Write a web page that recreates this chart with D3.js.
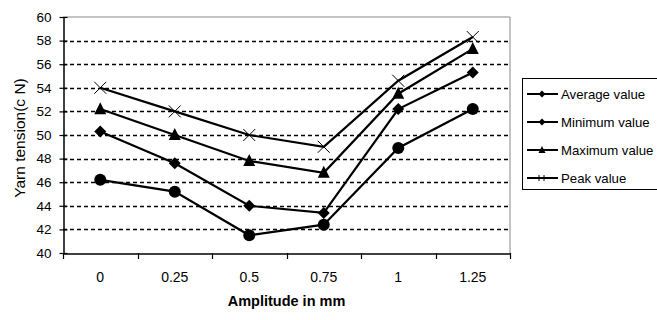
<!DOCTYPE html>
<html>
<head>
<meta charset="utf-8">
<script src="https://cdn.jsdelivr.net/npm/d3@7"></script>
<style>
  html, body { margin: 0; padding: 0; background: #fff; }
  svg { display: block; font-family: "Liberation Sans", Arial, sans-serif; }
</style>
</head>
<body>
<svg id="chart" width="657" height="320"></svg>
<script>
// Yarn tension versus vibration amplitude
const amplitudes = ["0", "0.25", "0.5", "0.75", "1", "1.25"];
const averageValue = [50.3, 47.6, 44.0, 43.4, 52.2, 55.3];
const minimumValue = [46.2, 45.2, 41.5, 42.4, 48.9, 52.2];
const maximumValue = [52.2, 50.0, 47.8, 46.8, 53.5, 57.3];
const peakValue    = [54.0, 52.0, 50.0, 49.0, 54.6, 58.3];
const yTicks = [40, 42, 44, 46, 48, 50, 52, 54, 56, 58, 60];
const seriesNames = ["Average value", "Minimum value", "Maximum value", "Peak value"];

const series = [
  { name: seriesNames[0], values: averageValue, marker: "diamond", legendMarker: "diamond" },
  { name: seriesNames[1], values: minimumValue, marker: "circle", legendMarker: "diamond" },
  { name: seriesNames[2], values: maximumValue, marker: "triangle", legendMarker: "triangle" },
  { name: seriesNames[3], values: peakValue, marker: "cross", legendMarker: "star" }
];

const svg = d3.select("#chart");
const plot = { left: 63, top: 17, right: 510, bottom: 253 };

const x = d3.scaleBand().domain(amplitudes).range([plot.left, plot.right]);
const y = d3.scaleLinear().domain([40, 60]).range([plot.bottom, plot.top]);

// plot frame (top/right in grey)
svg.append("path")
  .attr("d", `M${plot.left},${plot.top}H${plot.right}V${plot.bottom}`)
  .attr("fill", "none").attr("stroke", "#888").attr("stroke-width", 1);

// dashed gridlines
svg.append("g").selectAll("line")
  .data(yTicks.filter(t => t > 40 && t < 60))
  .join("line")
  .attr("x1", plot.left).attr("x2", plot.right)
  .attr("y1", d => Math.round(y(d)) + 0.5).attr("y2", d => Math.round(y(d)) + 0.5)
  .attr("stroke", "#000").attr("stroke-width", 1.3)
  .attr("stroke-dasharray", "4,3");

// y axis
const yAxis = svg.append("g")
  .attr("transform", `translate(${plot.left + 0.5},0)`)
  .call(d3.axisLeft(y).tickValues(yTicks).tickSize(4).tickPadding(4).tickSizeOuter(0));
yAxis.select(".domain").attr("stroke", "#000").attr("stroke-width", 1.5);
yAxis.selectAll(".tick line").attr("x2", 4).attr("x1", -4).attr("stroke-width", 1.2);
yAxis.selectAll(".tick text")
  .attr("font-size", 13.5).attr("fill", "#000")
  .attr("font-family", "'Liberation Sans', Arial, sans-serif")
  .attr("x", -12);

// x axis
const xAxis = svg.append("g")
  .attr("transform", `translate(0,${plot.bottom + 0.5})`)
  .call(d3.axisBottom(x).tickSize(0).tickPadding(19).tickSizeOuter(0));
xAxis.select(".domain").attr("stroke", "#000").attr("stroke-width", 1.5);
xAxis.selectAll(".tick text")
  .attr("font-size", 14).attr("fill", "#000")
  .attr("font-family", "'Liberation Sans', Arial, sans-serif");

// category boundary ticks
const bounds = amplitudes.map(a => x(a)).concat([plot.right]);
svg.append("g").selectAll("line")
  .data(bounds)
  .join("line")
  .attr("x1", d => Math.round(d) + 0.5).attr("x2", d => Math.round(d) + 0.5)
  .attr("y1", plot.bottom).attr("y2", plot.bottom + 6)
  .attr("stroke", "#000").attr("stroke-width", 1.2);

// axis titles
svg.append("text")
  .attr("x", (plot.left + plot.right) / 2).attr("y", 306)
  .attr("text-anchor", "middle").attr("font-size", 14.5).attr("font-weight", "bold")
  .text("Amplitude in mm");
svg.append("text")
  .attr("transform", `translate(25,${(plot.top + plot.bottom) / 2 + 3}) rotate(-90)`)
  .attr("text-anchor", "middle").attr("font-size", 15.5)
  .text("Yarn tension(c N)");

// marker drawing
function drawMarker(g, type, cx, cy, s) {
  if (type === "diamond") {
    g.append("path")
      .attr("d", `M${cx},${cy - s}L${cx + s},${cy}L${cx},${cy + s}L${cx - s},${cy}Z`)
      .attr("fill", "#000");
  } else if (type === "circle") {
    g.append("circle").attr("cx", cx).attr("cy", cy).attr("r", s).attr("fill", "#000");
  } else if (type === "triangle") {
    g.append("path")
      .attr("d", `M${cx},${cy - s * 1.15}L${cx + s},${cy + s * 0.85}L${cx - s},${cy + s * 0.85}Z`)
      .attr("fill", "#000");
  } else if (type === "cross") {
    g.append("path")
      .attr("d", `M${cx - s},${cy - s}L${cx + s},${cy + s}M${cx + s},${cy - s}L${cx - s},${cy + s}`)
      .attr("stroke", "#000").attr("stroke-width", 1);
  } else if (type === "star") {
    g.append("path")
      .attr("d", `M${cx - 3},${cy - 3}L${cx - 3},${cy + 3}M${cx + 2},${cy - 3}L${cx + 2},${cy + 3}`)
      .attr("stroke", "#000").attr("stroke-width", 1);
  }
}

const line = d3.line()
  .x((d, i) => x(amplitudes[i]) + x.bandwidth() / 2)
  .y(d => y(d));

const seriesG = svg.append("g");
series.forEach(s => {
  seriesG.append("path")
    .datum(s.values)
    .attr("d", line)
    .attr("fill", "none").attr("stroke", "#000").attr("stroke-width", 2.2);
  s.values.forEach((v, i) => {
    drawMarker(seriesG, s.marker, x(amplitudes[i]) + x.bandwidth() / 2, y(v), 6);
  });
});

// legend
const legend = svg.append("g");
legend.append("rect")
  .attr("x", 522.5).attr("y", 78.5).attr("width", 150).attr("height", 111)
  .attr("fill", "#fff").attr("stroke", "#000").attr("stroke-width", 1);
series.forEach((s, i) => {
  const ly = 94 + i * 28;
  legend.append("line")
    .attr("x1", 527).attr("x2", 558).attr("y1", ly).attr("y2", ly)
    .attr("stroke", "#000").attr("stroke-width", 2);
  drawMarker(legend, s.legendMarker, 542, ly, 3.5);
  legend.append("text")
    .attr("x", 561).attr("y", ly + 5)
    .attr("font-size", 13.2).attr("fill", "#000")
    .text(s.name);
});
</script>
</body>
</html>
